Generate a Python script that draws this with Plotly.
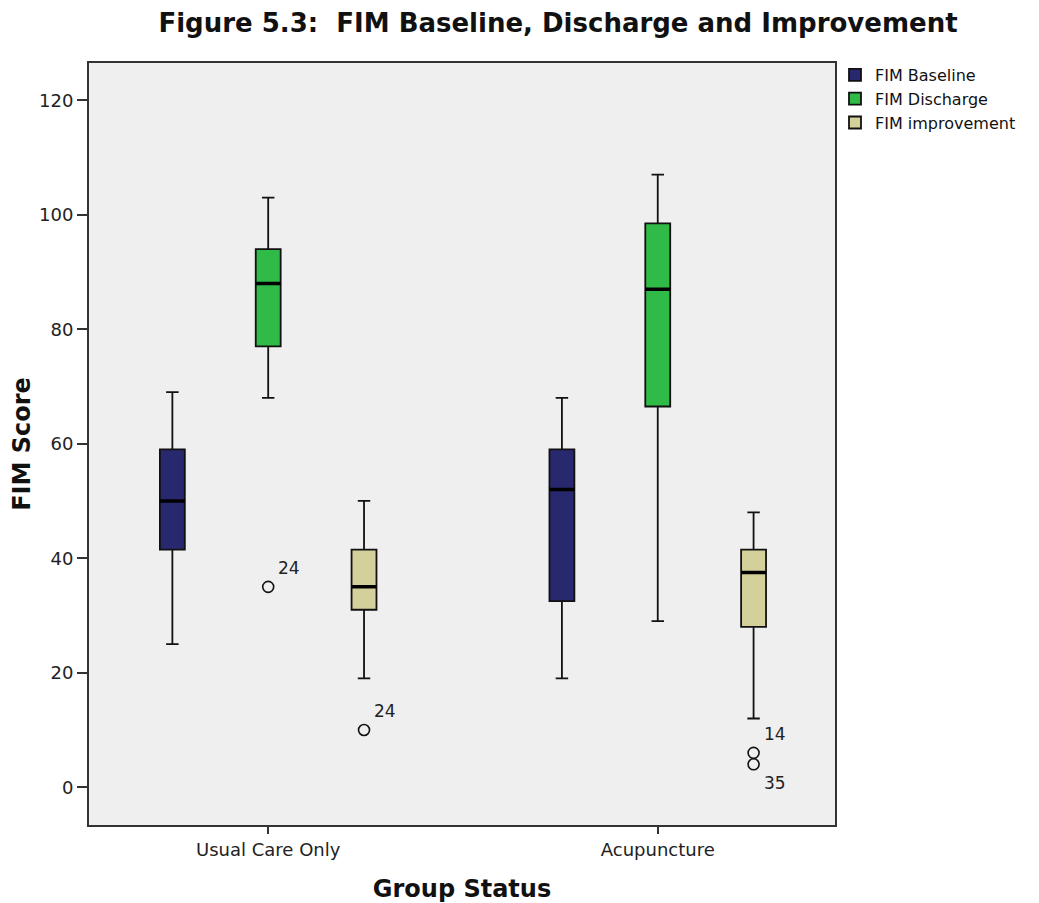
import plotly.graph_objects as go

# ---------------- data ----------------
groups = ["Usual Care Only", "Acupuncture"]
series = ["FIM Baseline", "FIM Discharge", "FIM improvement"]
colors = ["#28286f", "#30bb48", "#d4d09a"]

baseline_low = [25, 19]
baseline_q1 = [41.5, 32.5]
baseline_med = [50, 52]
baseline_q3 = [59, 59]
baseline_high = [69, 68]

discharge_low = [68, 29]
discharge_q1 = [77, 66.5]
discharge_med = [88, 87]
discharge_q3 = [94, 98.5]
discharge_high = [103, 107]

improvement_low = [19, 12]
improvement_q1 = [31, 28]
improvement_med = [35, 37.5]
improvement_q3 = [41.5, 41.5]
improvement_high = [50, 48]

outlier_series = ["FIM Discharge", "FIM improvement", "FIM improvement", "FIM improvement"]
outlier_group = ["Usual Care Only", "Usual Care Only", "Acupuncture", "Acupuncture"]
outlier_value = [35, 10, 6, 4]
outlier_case = ["24", "24", "14", "35"]
outlier_label_side = ["above", "above", "above", "below"]

y_ticks = [0, 20, 40, 60, 80, 100, 120]

stats = {
    "FIM Baseline": (baseline_low, baseline_q1, baseline_med, baseline_q3, baseline_high),
    "FIM Discharge": (discharge_low, discharge_q1, discharge_med, discharge_q3, discharge_high),
    "FIM improvement": (improvement_low, improvement_q1, improvement_med, improvement_q3, improvement_high),
}

# ---------------- style ----------------
BOXGAP = 0.262
BOXGROUPGAP = 0.74
FONT = "DejaVu Sans"
INK = "#222222"
W, H = 1031, 895  # page body adds an 8px margin

fig = go.Figure()

for k, name in enumerate(series):
    lo, q1, med, q3, hi = stats[name]
    fig.add_trace(go.Box(
        name=name, x=groups, lowerfence=lo, q1=q1, median=med, q3=q3, upperfence=hi,
        fillcolor=colors[k], line=dict(color="#111111", width=1.8),
        whiskerwidth=0.5, boxpoints=False, offsetgroup=name, legendgroup=name,
        hoverinfo="skip",
    ))
    # thick median overlay
    fig.add_trace(go.Box(
        name=name, x=groups, lowerfence=med, q1=med, median=med, q3=med, upperfence=med,
        fillcolor="rgba(0,0,0,0)", line=dict(color="#000000", width=3.5),
        whiskerwidth=0, boxpoints=False, offsetgroup=name, legendgroup=name,
        showlegend=False, hoverinfo="skip",
    ))

# outliers (invisible boxes carrying the points)
for k, name in enumerate(series):
    xs = [g for g, s in zip(outlier_group, outlier_series) if s == name]
    ys = [v for v, s in zip(outlier_value, outlier_series) if s == name]
    if not xs:
        continue
    fig.add_trace(go.Box(
        name=name, x=xs, y=ys, boxpoints="all", jitter=0, pointpos=0,
        fillcolor="rgba(0,0,0,0)", line=dict(color="rgba(0,0,0,0)", width=0),
        marker=dict(symbol="circle-open", size=11, color="#111111", line=dict(width=1.6)),
        whiskerwidth=0, offsetgroup=name, legendgroup=name, showlegend=False,
        hoverinfo="skip",
    ))

# outlier case labels
n = len(series)
for g, s, v, c, side in zip(outlier_group, outlier_series, outlier_value, outlier_case, outlier_label_side):
    k = series.index(s)
    xpos = groups.index(g) + 2 * 0.5 * (-0.5 + (k + 0.5) / n) * (1 - BOXGAP)
    fig.add_annotation(
        x=xpos, y=v, text=c, showarrow=False, xanchor="left",
        xshift=8, yshift=19 if side == "above" else -19,
        font=dict(family=FONT, size=17, color=INK),
    )

fig.update_layout(
    width=W, height=H,
    margin=dict(l=81, r=202, t=55, b=78),
    paper_bgcolor="white", plot_bgcolor="#efefef",
    boxmode="group", boxgap=BOXGAP, boxgroupgap=BOXGROUPGAP,
    title=dict(text="<b>Figure 5.3:  FIM Baseline, Discharge and Improvement</b>",
               x=550 / W, xref="container", xanchor="center",
               y=1 - 15 / H, yref="container", yanchor="middle",
               font=dict(family=FONT, size=26, color="#111111")),
    legend=dict(x=827 / W, xref="container", xanchor="left",
                y=1 - 50 / H, yref="container", yanchor="top",
                font=dict(family=FONT, size=16, color="#111111"),
                bgcolor="rgba(0,0,0,0)", tracegroupgap=0, itemwidth=30),
    font=dict(family=FONT, color=INK),
)

fig.update_xaxes(
    type="category", range=[-0.46, 1.455], automargin=False,
    showline=True, linecolor="#333333", linewidth=2, mirror=True,
    ticks="outside", ticklen=7, tickwidth=1.5, tickcolor="#333333",
    tickfont=dict(family=FONT, size=18, color=INK),
    showgrid=False, zeroline=False,
    title=dict(text="<b>Group Status</b>", standoff=22,
               font=dict(family=FONT, size=24, color="#111111")),
)
fig.update_yaxes(
    range=[-6.6, 126.5], tickvals=y_ticks, automargin=False,
    showline=True, linecolor="#333333", linewidth=2, mirror=True,
    ticks="outside", ticklen=10, tickwidth=2, tickcolor="#333333",
    tickfont=dict(family=FONT, size=18, color=INK),
    showgrid=False, zeroline=False,
    title=dict(text="<b>FIM Score</b>", standoff=4,
               font=dict(family=FONT, size=24, color="#111111")),
)

fig.write_html("out.html")
